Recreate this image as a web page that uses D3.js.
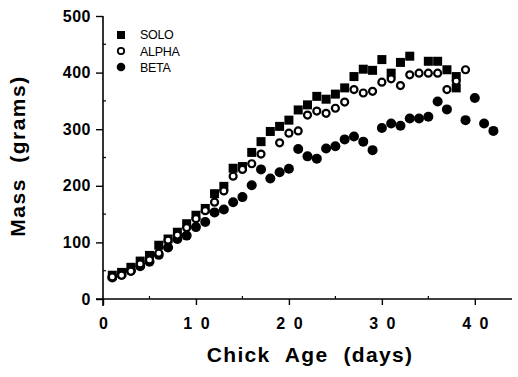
<!DOCTYPE html>
<html><head><meta charset="utf-8">
<script src="https://cdn.jsdelivr.net/npm/d3@7"></script>
<style>
html,body{margin:0;padding:0;background:#fff;}
svg{display:block;}
text{font-family:"Liberation Sans",Arial,Helvetica,sans-serif;fill:#000;}
</style></head><body>
<svg id="chart" width="518" height="377"></svg>
<script>
const soloDays   = [1,2,3,4,5,6,7,8,9,10,11,12,13,14,15,16,17,18,19,20,21,22,23,24,25,26,27,28,29,30,31,32,33,35,36,37,38,38];
const soloMass   = [42,47,56,67,77,95,106,118,133,148,160,186,199,231,234,259,278,296,305,316,334,343,358,353,362,373,393,406,404,423,399,418,429,420,420,405,393,373];
const alphaDays  = [1,2,3,4,5,6,7,8,9,10,11,12,13,14,15,16,17,19,20,21,22,23,24,25,26,27,28,29,30,31,32,33,34,35,36,37,38,39];
const alphaMass  = [39,42,49,62,69,81,104,113,126,142,156,171,191,217,229,239,256,276,293,297,325,332,328,337,348,370,364,367,383,389,377,396,399,399,399,370,385,405];
const betaDays   = [1,2,3,4,5,6,7,8,9,10,11,12,13,14,15,16,17,18,19,20,21,22,23,24,25,26,27,28,29,30,31,32,33,34,35,36,37,39,40,41,42];
const betaMass   = [38,43,50,58,66,78,91,106,112,127,136,153,158,171,180,201,229,213,224,230,265,252,248,266,270,282,287,278,263,302,310,306,319,319,322,349,335,316,355,310,297];
const xTicks = [0,10,20,30,40];
const xTickLabels = ["0","1 0","2 0","3 0","4 0"];
const yTicks = [0,100,200,300,400,500];
const legendNames = ["SOLO","ALPHA","BETA"];

const svg = d3.select("#chart");
const x = d3.scaleLinear().domain([0,44]).range([103,512]);
const y = d3.scaleLinear().domain([0,500]).range([299,16]);

// axes
const xAxis = d3.axisBottom(x).tickValues(xTicks).tickSize(6).tickFormat((d,i)=>xTickLabels[i]).tickPadding(13);
const yAxis = d3.axisLeft(y).tickValues(yTicks).tickSize(7).tickPadding(5);

const gx = svg.append("g").attr("transform",`translate(0,${y(0)})`).call(xAxis);
gx.select(".domain").attr("d",`M96,0H512`).attr("stroke","#000").attr("stroke-width",1.6);
gx.selectAll(".tick line").attr("stroke","#000").attr("stroke-width",1.4);
gx.selectAll(".tick text").attr("font-size",16).attr("font-weight","bold").attr("dy","0.71em")
  .attr("letter-spacing","2px").attr("dx","1px");

const gy = svg.append("g").attr("transform",`translate(${x(0)},0)`).call(yAxis);
gy.select(".domain").attr("d",`M0,${y(500)}V306`).attr("stroke","#000").attr("stroke-width",1.6);
gy.selectAll(".tick line").attr("stroke","#000").attr("stroke-width",1.4);
gy.selectAll(".tick text").attr("font-size",16).attr("font-weight","bold").attr("letter-spacing","0.5px");

// minor ticks
const xMinor = d3.range(5,45,10);
svg.append("g").selectAll("line").data(xMinor).join("line")
  .attr("x1",d=>x(d)).attr("x2",d=>x(d)).attr("y1",y(0)).attr("y2",y(0)-3)
  .attr("stroke","#000").attr("stroke-width",1.2);
const yMinor = d3.range(50,500,100);
svg.append("g").selectAll("line").data(yMinor).join("line")
  .attr("x1",x(0)).attr("x2",x(0)+3).attr("y1",d=>y(d)).attr("y2",d=>y(d))
  .attr("stroke","#000").attr("stroke-width",1.2);

// axis titles
svg.append("text").attr("x",310).attr("y",362).attr("text-anchor","middle")
  .attr("font-size",21).attr("font-weight","bold").attr("letter-spacing","1.3px")
  .attr("word-spacing","8px").text("Chick Age (days)");
svg.append("text").attr("transform","translate(25,156) rotate(-90)").attr("text-anchor","middle")
  .attr("font-size",21).attr("font-weight","bold").attr("letter-spacing","1.5px")
  .attr("word-spacing","8px").text("Mass (grams)");

// data
const solo = soloDays.map((d,i)=>({d, m:soloMass[i]}));
const alpha = alphaDays.map((d,i)=>({d, m:alphaMass[i]}));
const beta = betaDays.map((d,i)=>({d, m:betaMass[i]}));
const sq = 9;
svg.append("g").selectAll("rect").data(solo).join("rect")
  .attr("x",p=>x(p.d)-sq/2).attr("y",p=>y(p.m)-sq/2).attr("width",sq).attr("height",sq).attr("fill","#000");
svg.append("g").selectAll("circle").data(beta).join("circle")
  .attr("cx",p=>x(p.d)).attr("cy",p=>y(p.m)).attr("r",5).attr("fill","#000");
svg.append("g").selectAll("circle").data(alpha).join("circle")
  .attr("cx",p=>x(p.d)).attr("cy",p=>y(p.m)).attr("r",3.5).attr("fill","#fff").attr("stroke","#000").attr("stroke-width",2.2);

// legend
const lg = svg.append("g");
lg.append("rect").attr("x",117).attr("y",31).attr("width",8).attr("height",8).attr("fill","#000");
lg.append("circle").attr("cx",121).attr("cy",51).attr("r",3.2).attr("fill","#fff").attr("stroke","#000").attr("stroke-width",1.8);
lg.append("circle").attr("cx",121).attr("cy",67).attr("r",4.3).attr("fill","#000");
lg.selectAll("text").data(legendNames).join("text")
  .attr("x",140).attr("y",(d,i)=>35+i*16.5).attr("dy","0.35em")
  .attr("font-size",12.5).attr("letter-spacing","-0.3px").text(d=>d);
</script>
</body></html>
